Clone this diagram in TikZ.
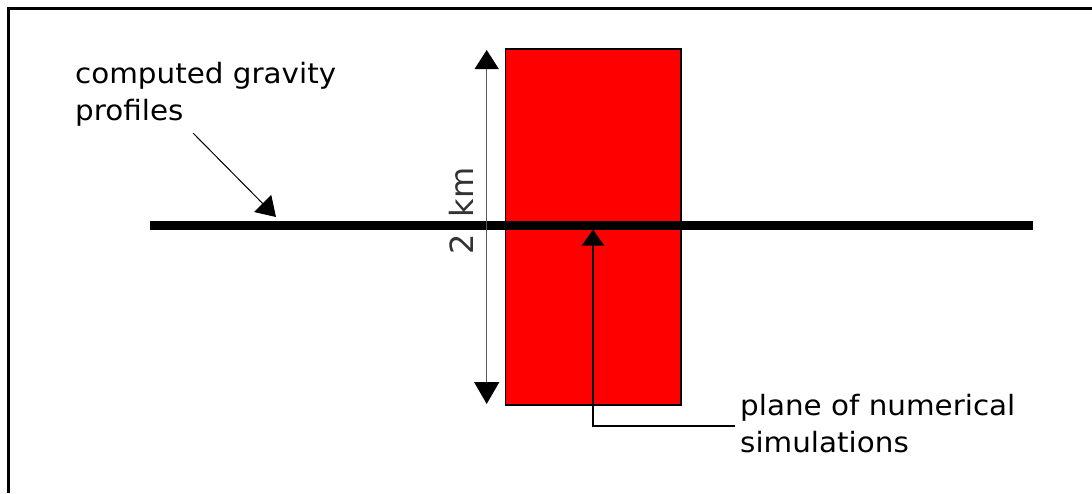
\documentclass[tikz,border=0pt]{standalone}
\usepackage{fontspec}
\usepackage{tikz}
\usetikzlibrary{arrows.meta}
\newfontfamily\labelfont[FakeStretch=1.05]{DejaVu Sans}
\newfontfamily\dimfont{DejaVu Sans}
\definecolor{slabred}{RGB}{255,0,0}

\begin{document}
\begin{tikzpicture}[x=1pt, y=-1pt,
  tip/.style={-{Triangle[length=19pt,width=24pt]}},
  lbl/.style={font=\labelfont\fontsize{28}{37}\selectfont, align=left, inner sep=0pt}]
  \useasboundingbox (0,0) rectangle (1092,493);
  % frame (top and left only)
  \draw[line width=3pt] (8.5,493) -- (8.5,8) -- (1092,8);
  % plane of the simulations
  \node[draw, fill=slabred, line width=1.5pt, inner sep=0pt,
        minimum width=175.5pt, minimum height=356pt] (slab) at (593.25,227) {};
  % gravity profile
  \coordinate (prof-w) at (150,225.3);
  \coordinate (prof-e) at (1033,225.3);
  \draw[line width=9pt] (prof-w) -- (prof-e);
  % 2 km extent
  \coordinate (dim-top) at (486.7,50);
  \coordinate (dim-bot) at (486.7,404);
  \draw[black!65, line width=1.5pt,
        {Triangle[length=19pt,width=24pt,color=black]}-{Triangle[length=22pt,width=25pt,color=black]}]
    (dim-top) -- (dim-bot);
  \node[rotate=90, anchor=base, black!80, font=\dimfont\fontsize{32}{36}\selectfont] (dimlbl) at (473,211) {2\hspace{7pt} km};
  % labels (base = last line)
  \node[lbl, anchor=base west] (gravlbl) at (75,120) {computed gravity\\profiles};
  \node[lbl, anchor=base west] (planelbl) at (740,452) {plane of numerical\\simulations};
  % leaders
  \coordinate (grav-tail) at (193,133);
  \coordinate (grav-tip) at (276,217);
  \draw[line width=1pt, tip] (grav-tail) -- (grav-tip);
  \coordinate (plane-tail) at (735,426);
  \coordinate (plane-tip) at (593,229.5);
  \draw[line width=2pt, -{Triangle[length=16pt,width=22pt]}] (plane-tail) -| (plane-tip);
\end{tikzpicture}
\end{document}
